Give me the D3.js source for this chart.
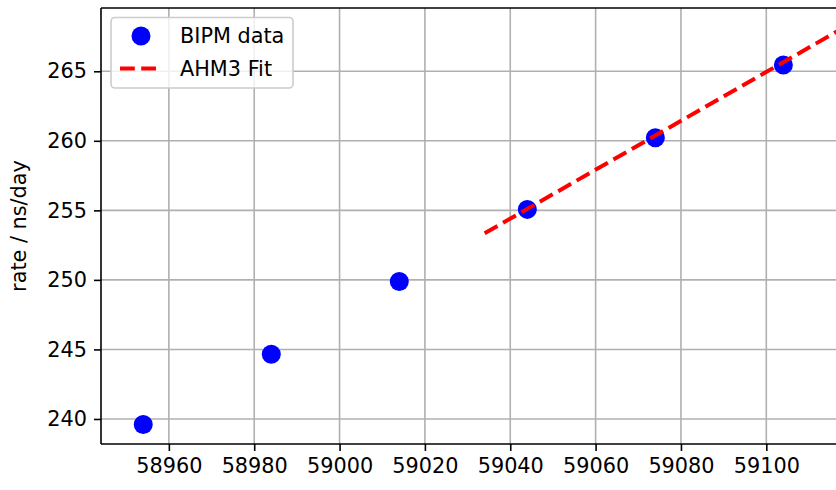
<!DOCTYPE html>
<html>
<head>
<meta charset="utf-8">
<script src="https://cdn.jsdelivr.net/npm/d3@7"></script>
<style>
  body { margin: 0; background: #fff; }
  svg { display: block; font-family: "DejaVu Sans", sans-serif; }
</style>
</head>
<body>
<div id="chart"></div>
<script>
// BIPM rate data (MJD vs ns/day)
var mjd = [58954, 58984, 59014, 59044, 59074, 59104];
var rate = [239.6, 244.66, 249.88, 255.07, 260.22, 265.45];

// AHM3 fit line endpoints
var fitX = [59034, 59124];
var fitY = [253.35, 269.17];

var xTicks = [58960, 58980, 59000, 59020, 59040, 59060, 59080, 59100];
var yTicks = [240, 245, 250, 255, 260, 265];

var width = 836, height = 490;
var margin = {top: 8, right: -2, bottom: 46, left: 101};
var fs = "20.8px";

var x = d3.scaleLinear()
    .domain([58944.1, 59116.8])
    .range([margin.left, width - margin.right]);
var y = d3.scaleLinear()
    .domain([238.2, 269.55])
    .range([height - margin.bottom, margin.top]);

var svg = d3.select("#chart").append("svg")
    .attr("width", width)
    .attr("height", height);

var defs = svg.append("defs");
defs.append("clipPath").attr("id", "plotclip")
  .append("rect")
    .attr("x", margin.left).attr("y", margin.top)
    .attr("width", width - margin.right - margin.left)
    .attr("height", height - margin.bottom - margin.top);

// grid
var grid = svg.append("g");
grid.selectAll("line.gx")
  .data(xTicks)
  .join("line")
    .attr("x1", d => x(d)).attr("x2", d => x(d))
    .attr("y1", margin.top).attr("y2", height - margin.bottom)
    .attr("stroke", "#b0b0b0").attr("stroke-width", 1.6);
grid.selectAll("line.gy")
  .data(yTicks)
  .join("line")
    .attr("class", "gy")
    .attr("x1", margin.left).attr("x2", width)
    .attr("y1", d => y(d)).attr("y2", d => y(d))
    .attr("stroke", "#b0b0b0").attr("stroke-width", 1.6);

// axes
var xAxis = svg.append("g")
    .attr("transform", "translate(0," + (height - margin.bottom) + ")")
    .call(d3.axisBottom(x).tickValues(xTicks).tickFormat(d3.format("d")).tickSize(7).tickPadding(7).tickSizeOuter(0));
var yAxis = svg.append("g")
    .attr("transform", "translate(" + margin.left + ",0)")
    .call(d3.axisLeft(y).tickValues(yTicks).tickFormat(d3.format("d")).tickSize(7).tickPadding(7).tickSizeOuter(0));

[xAxis, yAxis].forEach(function(a) {
  a.select(".domain").remove();
  a.selectAll(".tick line").attr("stroke", "#000").attr("stroke-width", 1.6);
  a.selectAll(".tick text")
    .attr("fill", "#000")
    .style("font-size", fs)
    .style("font-family", "DejaVu Sans, sans-serif");
});

// spines
svg.append("line")
    .attr("x1", margin.left).attr("x2", margin.left)
    .attr("y1", margin.top).attr("y2", height - margin.bottom)
    .attr("stroke", "#000").attr("stroke-width", 1.6);
svg.append("line")
    .attr("x1", margin.left).attr("x2", width)
    .attr("y1", height - margin.bottom).attr("y2", height - margin.bottom)
    .attr("stroke", "#000").attr("stroke-width", 1.6);
svg.append("line")
    .attr("x1", margin.left).attr("x2", width)
    .attr("y1", margin.top).attr("y2", margin.top)
    .attr("stroke", "#000").attr("stroke-width", 1.6);

var plot = svg.append("g").attr("clip-path", "url(#plotclip)");

// points
plot.selectAll("circle")
  .data(mjd)
  .join("circle")
    .attr("cx", d => x(d))
    .attr("cy", (d, i) => y(rate[i]))
    .attr("r", 9.5)
    .attr("fill", "#0000ff");

// fit line
var line = d3.line()
    .x(d => x(d[0]))
    .y(d => y(d[1]));
plot.append("path")
    .datum(fitX.map((d, i) => [d, fitY[i]]))
    .attr("d", line)
    .attr("fill", "none")
    .attr("stroke", "#ff0000")
    .attr("stroke-width", 4)
    .attr("stroke-dasharray", "14.8,6.4");

// y label
svg.append("text")
    .attr("transform", "translate(26," + ((margin.top + height - margin.bottom) / 2) + ") rotate(-90)")
    .attr("text-anchor", "middle")
    .style("font-size", fs)
    .text("rate / ns/day");

// legend
var lg = svg.append("g");
lg.append("rect")
    .attr("x", 111).attr("y", 17.5)
    .attr("width", 182).attr("height", 70.5)
    .attr("rx", 4)
    .attr("fill", "#fff").attr("fill-opacity", 0.8)
    .attr("stroke", "#cccccc").attr("stroke-width", 1.6);
lg.append("circle")
    .attr("cx", 141).attr("cy", 36)
    .attr("r", 9.5)
    .attr("fill", "#0000ff");
lg.append("line")
    .attr("x1", 120).attr("x2", 160)
    .attr("y1", 68.5).attr("y2", 68.5)
    .attr("stroke", "#ff0000").attr("stroke-width", 4)
    .attr("stroke-dasharray", "14.8,6.4");
lg.append("text")
    .attr("x", 180).attr("y", 43)
    .style("font-size", fs)
    .text("BIPM data");
lg.append("text")
    .attr("x", 180).attr("y", 76)
    .style("font-size", fs)
    .text("AHM3 Fit");
</script>
</body>
</html>
